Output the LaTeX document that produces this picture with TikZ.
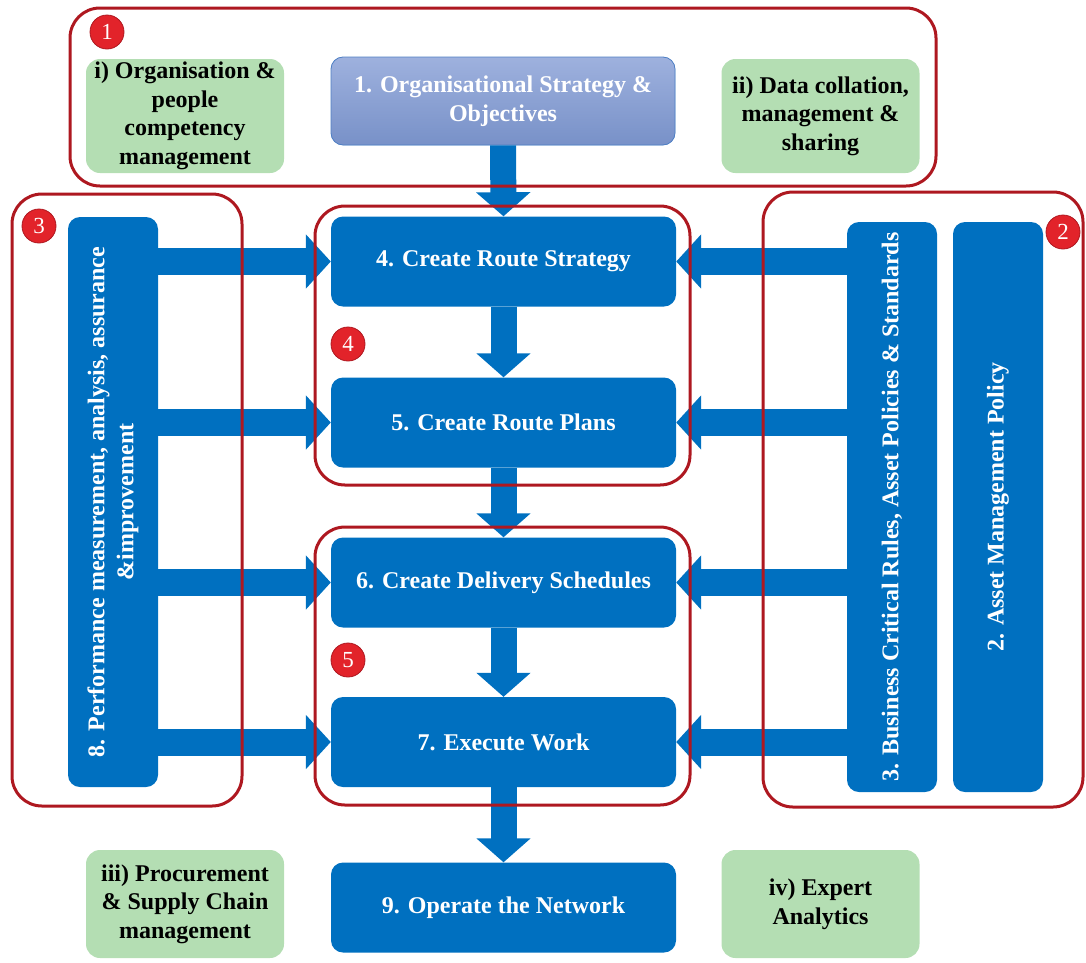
\documentclass[tikz,border=0pt]{standalone}
\usepackage{fontspec}
\setmainfont{Liberation Serif}
\usetikzlibrary{arrows.meta,calc}
\definecolor{boxblue}{HTML}{0070C0}
\definecolor{framered}{HTML}{AE1820}
\definecolor{badgered}{HTML}{E2232A}
\definecolor{softgreen}{HTML}{B4DEB3}
\definecolor{topblue}{HTML}{9EB1DE}
\definecolor{lowblue}{HTML}{7891C8}
\definecolor{edgeblue}{HTML}{4F7FC4}
\tikzset{
  bluebox/.style={fill=boxblue, rounded corners=12pt, text=white, align=center,
    font=\fontsize{24}{29}\selectfont\bfseries, minimum width=345pt, minimum height=90pt, inner sep=0pt},
  sidebox/.style={bluebox, rotate=90, minimum width=570pt, minimum height=90pt},
  greenbox/.style={fill=softgreen, rounded corners=14pt, text=black, align=center,
    font=\fontsize{24}{28.5}\selectfont\bfseries, minimum width=198pt, inner sep=0pt},
  redframe/.style={draw=framered, line width=3pt, rounded corners=30pt},
  badge/.style={circle, fill=badgered, draw=framered, line width=0.8pt, text=white,
    font=\fontsize{23}{23}\selectfont, minimum size=34pt, inner sep=0pt},
  fatdown/.style={draw=boxblue, line width=26pt, -{Triangle[width=53pt,length=24pt]}},
  fatside/.style={draw=boxblue, line width=27pt, -{Triangle[width=53pt,length=25pt]}}
}
\begin{document}
\begin{tikzpicture}[x=1pt,y=-1pt]
\useasboundingbox (0,0) rectangle (1086,962);
\node[bluebox, top color=topblue, bottom color=lowblue, draw=edgeblue, line width=0.8pt, minimum width=344pt, minimum height=88pt] (obj) at (503,101) {1. Organisational Strategy \&\\Objectives};
\node[bluebox] (strat) at (503.5,261.5) {4. Create Route Strategy};
\node[bluebox] (plans) at (503.5,422.5) {5. Create Route Plans};
\node[bluebox] (sched) at (503.5,582.5) {6. Create Delivery Schedules};
\node[bluebox] (exec) at (503.5,742) {7. Execute Work};
\node[bluebox] (operate) at (503.5,907.5) {9. Operate the Network};
\node[sidebox] (perf) at (113,502) {8. Performance measurement, analysis, assurance\\\&improvement};
\node[sidebox] (rules) at (892,507) {3. Business Critical Rules, Asset Policies \& Standards};
\node[sidebox] (policy) at (998,507) {2. Asset Management Policy};
\node[greenbox, minimum height=114pt] (people) at (185,116) {i) Organisation \&\\people\\competency\\management};
\node[greenbox, minimum height=114pt] (data) at (820.5,116) {ii) Data collation,\\management \&\\sharing};
\node[greenbox, minimum height=108pt] (supply) at (185,904) {iii) Procurement\\\& Supply Chain\\management};
\node[greenbox, minimum height=108pt] (expert) at (820.5,904) {iv) Expert\\Analytics};
\draw[fatdown] (obj.south) -- (strat.north);
\draw[fatdown] (strat.south) -- (plans.north);
\draw[fatdown] (plans.south) -- (sched.north);
\draw[fatdown] (sched.south) -- (exec.north);
\draw[fatdown] (exec.south) -- (operate.north);
\foreach \step in {strat,plans,sched,exec}{
  \draw[fatside] (perf.south |- \step.west) -- (\step.west);
  \draw[fatside] (rules.north |- \step.east) -- (\step.east);
}
\draw[redframe] (70,8) rectangle (936,186);
\draw[redframe] (12,194) rectangle (242,806);
\draw[redframe] (763,192) rectangle (1083,807);
\draw[redframe] (315,206) rectangle (690,485);
\draw[redframe] (315,527) rectangle (690,805);
\node[badge] (b1) at (107,32) {1};
\node[badge] (b2) at (1063,232) {2};
\node[badge] (b3) at (39,226) {3};
\node[badge] (b4) at (348,344) {4};
\node[badge] (b5) at (348,660) {5};
\end{tikzpicture}
\end{document}
